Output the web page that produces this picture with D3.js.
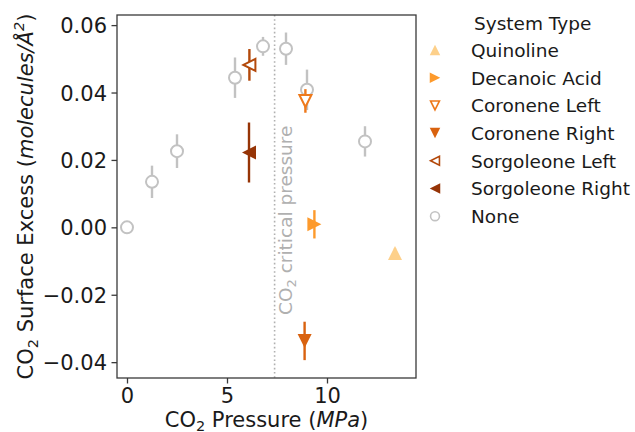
<!DOCTYPE html>
<html><head><meta charset="utf-8">
<script src="https://cdn.jsdelivr.net/npm/d3@7"></script>
<style>
body{margin:0;background:#fff;}
svg{display:block;font-family:"DejaVu Sans",sans-serif;}
</style></head>
<body><svg id="c" width="635" height="432"></svg>
<script>
// ---- data ----
const systems = ["Quinoline","Decanoic Acid","Coronene Left","Coronene Right","Sorgoleone Left","Sorgoleone Right","None"];
const systemColors = ["#fdd08a","#fd9a2c","#ee791b","#d9620f","#b3490b","#963406","#c2c2c2"];
const quinolineP = [13.4],  quinolineY = [-0.0076], quinolineErr = [0.0015];
const decanoicP = [9.37],   decanoicY = [0.0009],   decanoicErr = [0.0042];
const coroneneLeftP = [8.92], coroneneLeftY = [0.0375], coroneneLeftErr = [0.0035];
const coroneneRightP = [8.88], coroneneRightY = [-0.0337], coroneneRightErr = [0.0057];
const sorgoleoneLeftP = [6.12], sorgoleoneLeftY = [0.0482], sorgoleoneLeftErr = [0.0047];
const sorgoleoneRightP = [6.1], sorgoleoneRightY = [0.0222], sorgoleoneRightErr = [0.0089];
const noneP = [0, 1.25, 2.5, 5.4, 6.8, 7.95, 9.0, 11.9];
const noneY = [0.0, 0.0135, 0.0226, 0.0444, 0.0537, 0.0530, 0.0408, 0.0255];
const noneErr = [0.0, 0.0048, 0.005, 0.006, 0.0028, 0.0048, 0.006, 0.0045];
const xTicks = [0, 5, 10];
const yTicks = [-0.04, -0.02, 0.00, 0.02, 0.04, 0.06];
const criticalPressure = 7.38;

const markerShapes = ["up","right","down","down","left","left","circle"];
const markerFilled = [true,true,false,true,false,true,false];
const seriesP = [quinolineP,decanoicP,coroneneLeftP,coroneneRightP,sorgoleoneLeftP,sorgoleoneRightP,noneP];
const seriesY = [quinolineY,decanoicY,coroneneLeftY,coroneneRightY,sorgoleoneLeftY,sorgoleoneRightY,noneY];
const seriesE = [quinolineErr,decanoicErr,coroneneLeftErr,coroneneRightErr,sorgoleoneLeftErr,sorgoleoneRightErr,noneErr];

// ---- layout ----
const svg = d3.select("#c");
const L = 117, R = 416, T = 15, B = 378;
const x = d3.scaleLinear().domain([-0.5, 14.45]).range([L, R]);
const y = d3.scaleLinear().domain([-0.0447, 0.063]).range([B, T]);
const axisColor = "#3a3a3a";

function shapePath(shape, s){
  const h = s/2;
  switch(shape){
    case "up": return `M0,${-h}L${h},${h}L${-h},${h}Z`;
    case "down": return `M0,${h}L${h},${-h}L${-h},${-h}Z`;
    case "right": return `M${h},0L${-h},${-h}L${-h},${h}Z`;
    case "left": return `M${-h},0L${h},${-h}L${h},${h}Z`;
  }
}
function drawMarker(g, i, s, sw){
  const c = systemColors[i];
  if (markerShapes[i] === "circle"){
    g.append("circle").attr("r", s/2 - sw/2).attr("fill", "#fff").attr("stroke", c).attr("stroke-width", sw);
  } else {
    const ss = markerFilled[i] ? s : s - sw;
    g.append("path").attr("d", shapePath(markerShapes[i], ss))
      .attr("fill", markerFilled[i] ? c : "#fff")
      .attr("stroke", markerFilled[i] ? "none" : c)
      .attr("stroke-width", sw).attr("stroke-linejoin","miter");
  }
}

// critical pressure line
svg.append("line").attr("x1", x(criticalPressure)).attr("x2", x(criticalPressure))
  .attr("y1", T).attr("y2", B).attr("stroke", "#b0b0b0").attr("stroke-width", 1.6)
  .attr("stroke-dasharray", "1.6,2.6");
const ct = svg.append("text").attr("transform", `translate(${x(criticalPressure)+17},315) rotate(-90)`)
  .attr("fill", "#b0b0b0").attr("font-size", 18.5);
ct.append("tspan").text("CO");
ct.append("tspan").text("2").attr("font-size", 13).attr("dy", 4);
ct.append("tspan").text(" critical pressure").attr("dy", -4);

// points
const order = [6,0,1,2,3,4,5];
order.forEach(i => {
  const pts = seriesP[i].map((p, k) => ({p, v: seriesY[i][k], e: seriesE[i][k]}));
  const g = svg.append("g");
  pts.forEach(d => {
    if (d.e > 0) {
      g.append("line").attr("x1", x(d.p)).attr("x2", x(d.p))
        .attr("y1", y(d.v + d.e)).attr("y2", y(d.v - d.e))
        .attr("stroke", systemColors[i]).attr("stroke-width", 2.4);
    }
    const mg = g.append("g").attr("transform", `translate(${x(d.p)},${y(d.v)})`);
    drawMarker(mg, i, 14, 2);
  });
});

// frame
svg.append("rect").attr("x", L).attr("y", T).attr("width", R-L).attr("height", B-T)
  .attr("fill", "none").attr("stroke", axisColor).attr("stroke-width", 1.3);

// axes
const xa = svg.append("g").attr("transform", `translate(0,${B})`)
  .call(d3.axisBottom(x).tickValues(xTicks).tickFormat(d3.format("d")).tickSizeOuter(0).tickSize(5.5).tickPadding(5));
const ya = svg.append("g").attr("transform", `translate(${L},0)`)
  .call(d3.axisLeft(y).tickValues(yTicks).tickFormat(d => d3.format(".2f")(d).replace("-", "\u2212")).tickSizeOuter(0).tickSize(5.5).tickPadding(4.5));
[xa, ya].forEach(a => {
  a.select(".domain").remove();
  a.selectAll("line").attr("stroke", axisColor).attr("stroke-width", 1.3);
  a.selectAll("text").attr("font-size", 21).attr("fill", "#1a1a1a").attr("font-family", "DejaVu Sans");
});
ya.selectAll("text").attr("dy", "0.36em");

// axis labels
const xl = svg.append("text").attr("x", (L+R)/2).attr("y", 427).attr("text-anchor", "middle")
  .attr("font-size", 21).attr("fill", "#1a1a1a");
xl.append("tspan").text("CO");
xl.append("tspan").text("2").attr("font-size", 14.5).attr("dy", 4);
xl.append("tspan").text(" Pressure (").attr("dy", -4);
xl.append("tspan").text("MPa").attr("font-style", "italic");
xl.append("tspan").text(")");

const yl = svg.append("text").attr("transform", `translate(33,${(T+B)/2}) rotate(-90)`)
  .attr("text-anchor", "middle").attr("font-size", 21).attr("fill", "#1a1a1a");
yl.append("tspan").text("CO");
yl.append("tspan").text("2").attr("font-size", 14.5).attr("dy", 4.5);
yl.append("tspan").text(" Surface Excess (").attr("dy", -4.5);
yl.append("tspan").text("molecules/Å").attr("font-style", "italic");
yl.append("tspan").text("2").attr("font-size", 14.5).attr("dy", -9).attr("font-style", "italic");
yl.append("tspan").text(")").attr("dy", 9);

// legend
const lg = svg.append("g");
lg.append("text").attr("x", 474).attr("y", 30).attr("font-size", 18.5).attr("fill", "#1a1a1a").text("System Type");
systems.forEach((name, i) => {
  const cy = 50 + i * 27.7;
  const mg = lg.append("g").attr("transform", `translate(435,${cy})`);
  drawMarker(mg, i, 10.5, 1.6);
  lg.append("text").attr("x", 471).attr("y", cy + 6.8).attr("font-size", 18.5).attr("fill", "#1a1a1a").text(name);
});
</script></body></html>
